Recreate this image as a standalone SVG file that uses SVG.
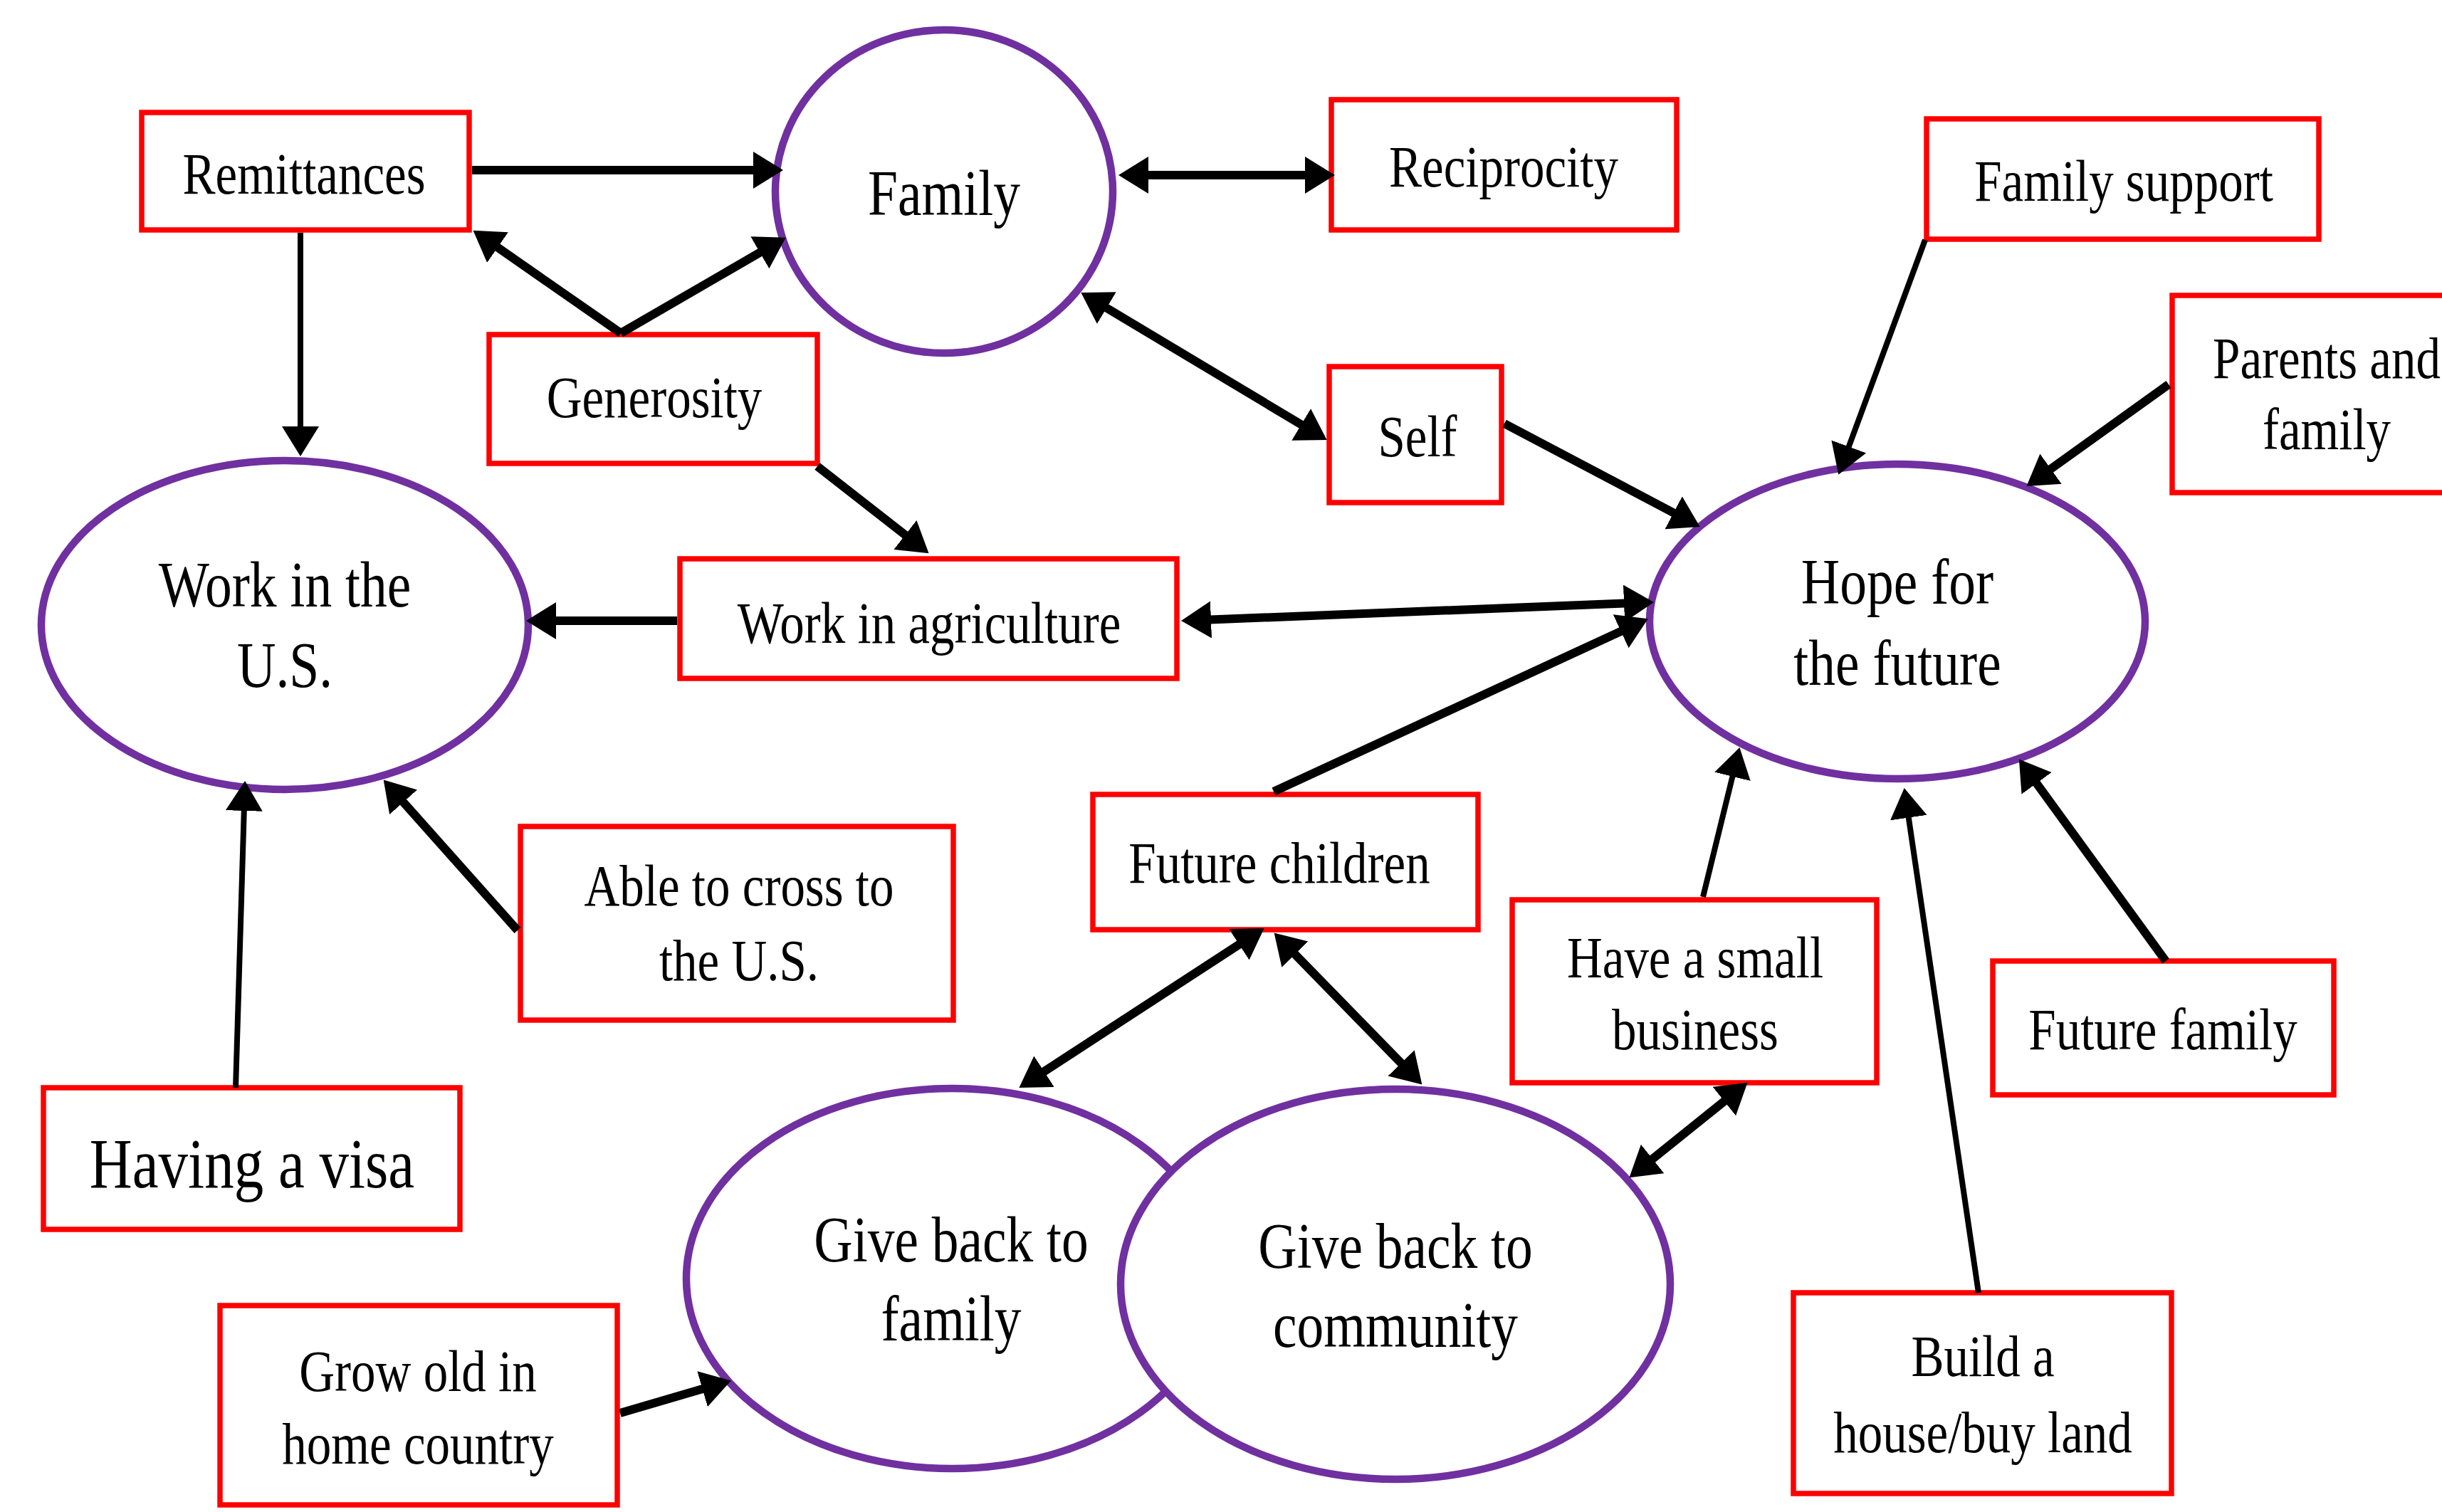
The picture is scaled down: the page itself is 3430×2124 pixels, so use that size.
<svg xmlns="http://www.w3.org/2000/svg" width="3430" height="2124" viewBox="0 0 3430 2124">
<style>
.box{fill:#fff;stroke:#FF0000;stroke-width:7.5}
.ell{fill:#fff;stroke:#7030A0;stroke-width:10.5}
.lbl{font-family:"Liberation Serif","Times New Roman",serif;fill:#000;text-anchor:middle;font-size:69px}
.big{font-size:75.5px}
.visa{font-size:83px}
.c{stroke:#000;stroke-width:12;fill:none}
.t{stroke-width:8}
</style>
<defs>
<marker id="ah" markerUnits="userSpaceOnUse" markerWidth="42" markerHeight="52" refX="20" refY="26" orient="auto-start-reverse" viewBox="0 0 42 52"><path d="M0,0 L42,26 L0,52 z" fill="#000"/></marker>
</defs>
<rect width="3430" height="2124" fill="#fff"/>

<g id="family"><ellipse class="ell" cx="1326" cy="269" rx="237" ry="227"/><text class="lbl big" transform="translate(1326,302) scale(1,1.2)">Family</text></g>
<g id="work-us"><ellipse class="ell" cx="400" cy="878" rx="342" ry="231"/><text class="lbl big" transform="translate(400,852) scale(1,1.2)"><tspan x="0" y="0">Work in the</tspan><tspan x="0" y="94">U.S.</tspan></text></g>
<g id="hope"><ellipse class="ell" cx="2665" cy="873" rx="348" ry="221"/><text class="lbl big" transform="translate(2665,848) scale(1,1.2)"><tspan x="0" y="0">Hope for</tspan><tspan x="0" y="95">the future</tspan></text></g>
<g id="give-family"><ellipse class="ell" cx="1337" cy="1796" rx="373" ry="267"/><text class="lbl big" transform="translate(1336,1772) scale(1,1.2)"><tspan x="0" y="0">Give back to</tspan><tspan x="0" y="92.5">family</tspan></text></g>
<g id="give-community"><ellipse class="ell" cx="1960" cy="1804" rx="386" ry="274"/><text class="lbl big" transform="translate(1960,1781) scale(1,1.2)"><tspan x="0" y="0">Give back to</tspan><tspan x="0" y="92.5">community</tspan></text></g>

<g id="remittances"><rect class="box" x="199" y="158" width="460" height="165"/><text class="lbl" transform="translate(427,272) scale(1,1.2)">Remittances</text></g>
<g id="reciprocity"><rect class="box" x="1870" y="140" width="485" height="183"/><text class="lbl" transform="translate(2112,262) scale(1,1.2)">Reciprocity</text></g>
<g id="family-support"><rect class="box" x="2706" y="167" width="551" height="169"/><text class="lbl" transform="translate(2983,282) scale(1,1.2)">Family support</text></g>
<g id="parents"><rect class="box" x="3051" y="415" width="400" height="277"/><text class="lbl" transform="translate(3268,531) scale(1,1.2)"><tspan x="0" y="0">Parents and</tspan><tspan x="0" y="83">family</tspan></text></g>
<g id="generosity"><rect class="box" x="687" y="470" width="461" height="181"/><text class="lbl" transform="translate(919,586) scale(1,1.2)">Generosity</text></g>
<g id="self"><rect class="box" x="1867" y="515" width="242" height="191"/><text class="lbl" transform="translate(1991,641) scale(1,1.2)">Self</text></g>
<g id="work-agri"><rect class="box" x="955" y="785" width="698" height="168"/><text class="lbl" transform="translate(1305,903) scale(1,1.2)">Work in agriculture</text></g>
<g id="able"><rect class="box" x="731" y="1161" width="608" height="272"/><text class="lbl" transform="translate(1038,1272) scale(1,1.2)"><tspan x="0" y="0">Able to cross to</tspan><tspan x="0" y="87.5">the U.S.</tspan></text></g>
<g id="future-children"><rect class="box" x="1535" y="1116" width="541" height="190"/><text class="lbl" transform="translate(1797,1240) scale(1,1.2)">Future children</text></g>
<g id="business"><rect class="box" x="2124" y="1264" width="512" height="257"/><text class="lbl" transform="translate(2381,1373) scale(1,1.2)"><tspan x="0" y="0">Have a small</tspan><tspan x="0" y="84">business</tspan></text></g>
<g id="future-family"><rect class="box" x="2799" y="1350" width="479" height="188"/><text class="lbl" transform="translate(3038,1474) scale(1,1.2)">Future family</text></g>
<g id="visa"><rect class="box" x="61" y="1528" width="585" height="199"/><text class="lbl visa" transform="translate(354,1668) scale(1,1.2)">Having a visa</text></g>
<g id="grow-old"><rect class="box" x="309" y="1834" width="558" height="280"/><text class="lbl" transform="translate(587,1954) scale(1,1.2)"><tspan x="0" y="0">Grow old in</tspan><tspan x="0" y="85">home country</tspan></text></g>
<g id="build"><rect class="box" x="2519" y="1816" width="531" height="282"/><text class="lbl" transform="translate(2785,1933) scale(1,1.2)"><tspan x="0" y="0">Build a</tspan><tspan x="0" y="89">house/buy land</tspan></text></g>

<g id="connectors">
<path class="c" d="M663,239 L1078,239" marker-end="url(#ah)"/>
<path class="c t" d="M422,327 L422,619" marker-end="url(#ah)"/>
<path class="c" d="M872,468 L682.6,336.2" marker-end="url(#ah)"/>
<path class="c" d="M872,468 L1084.6,344.8" marker-end="url(#ah)"/>
<path class="c" d="M1148,655 L1287.2,763.7" marker-end="url(#ah)"/>
<path class="c" d="M1593,246 L1853,246" marker-start="url(#ah)" marker-end="url(#ah)"/>
<path class="c" d="M1537.2,422.3 L1844.8,606.7" marker-start="url(#ah)" marker-end="url(#ah)"/>
<path class="c" d="M2113,595 L2368.3,729.7" marker-end="url(#ah)"/>
<path class="c t" d="M2704,337 L2589.9,646.2" marker-end="url(#ah)"/>
<path class="c" d="M3046,540 L2864.3,670.3" marker-end="url(#ah)"/>
<path class="c" d="M1681,871.2 L2301,846.8" marker-start="url(#ah)" marker-end="url(#ah)"/>
<path class="c" d="M1789,1112 L2294.8,878.4" marker-end="url(#ah)"/>
<path class="c" d="M951,872 L761,872" marker-end="url(#ah)"/>
<path class="c" d="M727,1307 L553.3,1111.9" marker-end="url(#ah)"/>
<path class="c t" d="M331,1528 L343.4,1119" marker-end="url(#ah)"/>
<path class="c t" d="M2392,1260 L2438.2,1071.4" marker-end="url(#ah)"/>
<path class="c t" d="M2779,1816 L2677.9,1128.8" marker-end="url(#ah)"/>
<path class="c" d="M3042,1350 L2848.8,1084.2" marker-end="url(#ah)"/>
<path class="c" d="M1757.2,1315.9 L1449.8,1516.1" marker-start="url(#ah)" marker-end="url(#ah)"/>
<path class="c" d="M1805,1326.3 L1982,1507.7" marker-start="url(#ah)" marker-end="url(#ah)"/>
<path class="c" d="M2437.4,1534.5 L2305.6,1640.5" marker-start="url(#ah)" marker-end="url(#ah)"/>
<path class="c" d="M871,1985 L1005.8,1945.6" marker-end="url(#ah)"/>
</g>
</svg>
